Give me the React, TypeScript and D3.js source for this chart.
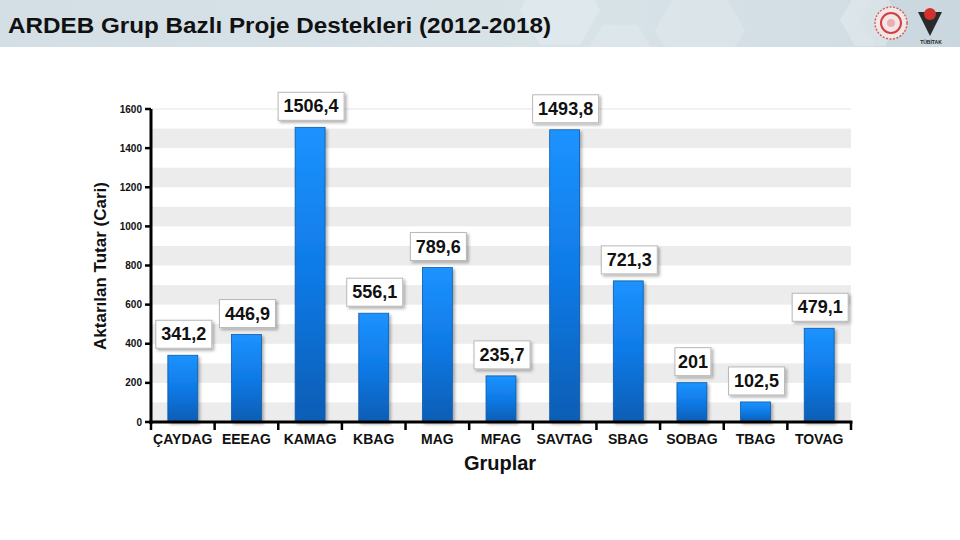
import React from "react";
import * as d3 from "d3";

const categories = ["ÇAYDAG", "EEEAG", "KAMAG", "KBAG", "MAG", "MFAG", "SAVTAG", "SBAG", "SOBAG", "TBAG", "TOVAG"];
const values = [341.2, 446.9, 1506.4, 556.1, 789.6, 235.7, 1493.8, 721.3, 201, 102.5, 479.1];
const labels = ["341,2", "446,9", "1506,4", "556,1", "789,6", "235,7", "1493,8", "721,3", "201", "102,5", "479,1"];
const yTicks = [0, 200, 400, 600, 800, 1000, 1200, 1400, 1600];
const bands = [0, 200, 400, 600, 800, 1000, 1200, 1400];

const W = 960;
const H = 540;
const left = 151;
const right = 851;
const top = 109;
const bottom = 422;

export default function App() {
  const x = d3.scaleBand<string>().domain(categories).range([left, right]).paddingInner(0.53).paddingOuter(0.265);
  const xb = d3.scaleBand<string>().domain(categories).range([left, right]);
  const y = d3.scaleLinear().domain([0, 1600]).range([bottom, top]);
  const font = "'Liberation Sans', Arial, sans-serif";
  const hex = (cx: number, cy: number, r: number) =>
    d3.range(6).map((i) => {
      const a = (Math.PI / 3) * i;
      return [cx + r * Math.cos(a), cy + r * Math.sin(a)].join(",");
    }).join(" ");

  return (
    <svg width={W} height={H} style={{ position: "absolute", left: 0, top: 0, background: "#fff" }} fontFamily={font}>
      <defs>
        <linearGradient id="hdr" x1="0" x2="1" y1="0" y2="0">
          <stop offset="0" stopColor="#d3dfe5" />
          <stop offset="0.6" stopColor="#d8e3e8" />
          <stop offset="1" stopColor="#cfdbe2" />
        </linearGradient>
        <linearGradient id="bar" x1="0" x2="0" y1="0" y2="1">
          <stop offset="0" stopColor="#1c93ff" />
          <stop offset="0.5" stopColor="#0f7ae6" />
          <stop offset="1" stopColor="#0a5db4" />
        </linearGradient>
        <filter id="sh" x="-30%" y="-30%" width="160%" height="160%">
          <feDropShadow dx="2" dy="2" stdDeviation="1.5" floodColor="#000" floodOpacity="0.3" />
        </filter>
        <clipPath id="hclip">
          <rect x={0} y={0} width={W} height={47} />
        </clipPath>
      </defs>
      <rect x={0} y={0} width={W} height={H} fill="#fff" />
      <g clipPath="url(#hclip)">
        <rect x={0} y={0} width={W} height={47} fill="url(#hdr)" />
        <polygon points={hex(560, 10, 40)} fill="#fff" opacity={0.2} />
        <polygon points={hex(700, 30, 45)} fill="#fff" opacity={0.15} />
        <polygon points={hex(620, 55, 35)} fill="#fff" opacity={0.15} />
        <polygon points={hex(1010, 20, 150)} fill="#c6d4db" opacity={0.5} />
        <polygon points={hex(870, 20, 30)} fill="#e6edf0" opacity={0.5} />
      </g>
      <text x={8} y={33} fontSize={22} fontWeight="bold" fill="#111" textLength={543} lengthAdjust="spacingAndGlyphs">ARDEB Grup Bazlı Proje Destekleri (2012-2018)</text>
      {/* logos */}
      <g>
        <circle cx={891} cy={23} r={16} fill="#f4e6e6" stroke="#d06060" strokeWidth={1.5} strokeDasharray="2 1.5" />
        <circle cx={891} cy={23} r={10} fill="none" stroke="#d04040" strokeWidth={2} />
        <circle cx={891} cy={23} r={4} fill="#e8b0b0" />
        <polygon points="918,12 942,12 930,36" fill="#2a2a2a" />
        <circle cx={930} cy={14} r={6} fill="#d03030" />
        <text x={931} y={44} fontSize={5} textAnchor="middle" fill="#222" fontWeight="bold">TÜBİTAK</text>
      </g>

      {/* plot background */}
      <rect x={left} y={top} width={right - left} height={bottom - top} fill="#fff" />
      {bands.map((b) => (
        <rect key={b} x={left} y={y(b + 100)} width={right - left} height={y(b) - y(b + 100)} fill="#ececec" />
      ))}
      <line x1={left} x2={right} y1={top} y2={top} stroke="#e4e4e4" strokeWidth={1} />

      {/* bars */}
      {categories.map((c, i) => (
        <rect key={c} x={x(c)} y={y(values[i])} width={x.bandwidth()} height={bottom - y(values[i])}
          fill="url(#bar)" stroke="#0b5aa8" strokeWidth={0.8} filter="url(#sh)" />
      ))}

      {/* axes */}
      <line x1={left} x2={left} y1={top} y2={bottom + 2} stroke="#000" strokeWidth={3} />
      <line x1={left - 2} x2={right + 1.5} y1={bottom} y2={bottom} stroke="#000" strokeWidth={3} />
      {yTicks.map((t) => (
        <g key={t}>
          <line x1={left - 6} x2={left} y1={y(t)} y2={y(t)} stroke="#000" strokeWidth={2.5} />
          <text x={left - 9} y={y(t) + 3.5} fontSize={10} fontWeight="bold" textAnchor="end" fill="#111">{t}</text>
        </g>
      ))}
      {categories.map((c) => (
        <line key={c} x1={xb(c)!} x2={xb(c)!} y1={bottom} y2={bottom + 8} stroke="#000" strokeWidth={2.5} />
      ))}
      <line x1={right} x2={right} y1={bottom} y2={bottom + 8} stroke="#000" strokeWidth={2.5} />
      {categories.map((c) => (
        <text key={c} x={xb(c)! + xb.bandwidth() / 2} y={444} fontSize={14} fontWeight="bold" textAnchor="middle" fill="#111">{c}</text>
      ))}
      <text x={500} y={470} fontSize={20} fontWeight="bold" textAnchor="middle" fill="#111">Gruplar</text>
      <text transform={`translate(106,266) rotate(-90)`} fontSize={17} fontWeight="bold" textAnchor="middle" fill="#111">Aktarılan Tutar (Cari)</text>

      {/* value labels */}
      {categories.map((c, i) => {
        const cx = x(c)! + x.bandwidth() / 2 + 1;
        const txt = labels[i];
        const w = txt.length * 10 + 6;
        const by = y(values[i]) - 7;
        return (
          <g key={c}>
            <rect x={cx - w / 2} y={by - 28} width={w} height={28} fill="#fff" stroke="#b8b8b8" strokeWidth={1} filter="url(#sh)" />
            <text x={cx} y={by - 8} fontSize={18} fontWeight="bold" textAnchor="middle" fill="#111">{txt}</text>
          </g>
        );
      })}
    </svg>
  );
}
